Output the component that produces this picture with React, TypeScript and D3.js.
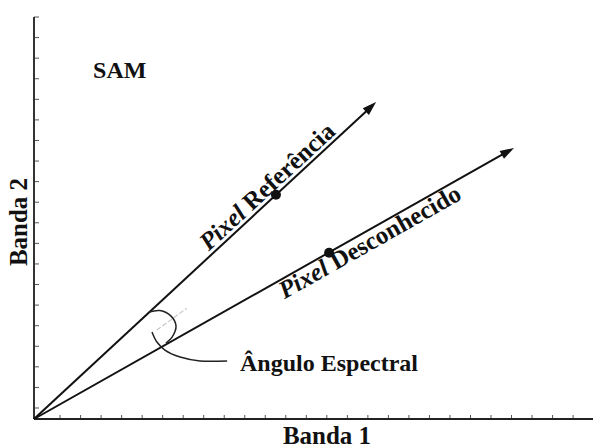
import React from "react";
import * as d3 from "d3";

const W = 593;
const H = 448;

// axis domains in tick units
const xDomain = [0, 27.24];
const yDomain = [0, 19.535];
const xTicks = d3.range(1.27, 27.3, 1);
const yTicks = d3.range(0.535, 19.6, 1);

// vectors
const vectorItalic = ["Pixel", "Pixel"];
const vectorNames = ["Referência", "Desconhecido"];
const vectorTipX = [16.67, 23.39];
const vectorTipY = [15.4, 13.17];
const pixelX = [11.79, 14.38];
const pixelY = [10.9, 8.08];

// spectral angle curl
const arcX = [5.6, 6.14, 6.68, 6.92, 6.73, 6.43];
const arcY = [5.2, 5.27, 5.0, 4.52, 3.98, 3.69];
// leader line
const leaderX = [5.75, 5.99, 6.38, 7.12, 8.09, 9.41];
const leaderY = [4.23, 3.74, 3.35, 3.01, 2.82, 2.82];
// bisector
const bisX = [5.98, 7.44];
const bisY = [4.32, 5.38];

const titleText = "SAM";
const angleText = "Ângulo Espectral";
const xLabel = "Banda 1";
const yLabel = "Banda 2";

export default function App() {
  const x = d3.scaleLinear().domain(xDomain).range([34, 593]);
  const y = d3.scaleLinear().domain(yDomain).range([419, 17]);
  const ox = x(0);
  const oy = y(0);

  const curve = d3
    .line<[number, number]>()
    .x((d) => x(d[0]))
    .y((d) => y(d[1]))
    .curve(d3.curveCatmullRom.alpha(0.5));

  const arcPts = arcX.map((v, i) => [v, arcY[i]] as [number, number]);
  const leaderPts = leaderX.map((v, i) => [v, leaderY[i]] as [number, number]);

  const font = "'Liberation Serif', 'Times New Roman', serif";

  // label placement along each vector (px along, perpendicular offset)
  const labelAlong = [242, 277];
  const labelOffset = [-4, 19];

  return (
    <svg
      width={W}
      height={H}
      style={{ position: "absolute", left: 0, top: 0, background: "#fff" }}
      fontFamily={font}
    >
      <rect x={0} y={0} width={W} height={H} fill="#fff" />
      {/* ticks */}
      {yTicks.map((t, i) => (
        <line key={"yt" + i} x1={ox} x2={ox + 5} y1={y(t)} y2={y(t)} stroke="#555" strokeWidth={1} />
      ))}
      {xTicks.map((t, i) => (
        <line key={"xt" + i} x1={x(t)} x2={x(t)} y1={oy} y2={oy - 4} stroke="#555" strokeWidth={1} />
      ))}
      {/* axes */}
      <line x1={ox} x2={ox} y1={y(yDomain[1])} y2={oy} stroke="#333" strokeWidth={2} />
      <line x1={ox} x2={x(xDomain[1])} y1={oy} y2={oy} stroke="#222" strokeWidth={2} />

      {/* bisector */}
      <line
        x1={x(bisX[0])}
        y1={y(bisY[0])}
        x2={x(bisX[1])}
        y2={y(bisY[1])}
        stroke="#c8c8c8"
        strokeWidth={1.2}
        strokeDasharray="5,2"
      />

      {/* vectors */}
      {vectorNames.map((name, i) => {
        const tx = x(vectorTipX[i]);
        const ty = y(vectorTipY[i]);
        const L = Math.hypot(tx - ox, ty - oy);
        const ang = (Math.atan2(ty - oy, tx - ox) * 180) / Math.PI;
        return (
          <g key={name}>
            <g transform={`translate(${ox},${oy}) rotate(${ang})`}>
              <line x1={0} y1={0} x2={L - 6} y2={0} stroke="#111" strokeWidth={2} />
              <path d={`M${L},0 L${L - 14},-4.5 L${L - 14},4.5 Z`} fill="#111" />
              <text
                x={labelAlong[i]}
                y={labelOffset[i]}
                fontSize={25}
                fontWeight="bold"
                fill="#111"
              >
                <tspan fontStyle="italic">{vectorItalic[i]}</tspan>
                <tspan> {name}</tspan>
              </text>
            </g>
            <circle cx={x(pixelX[i])} cy={y(pixelY[i])} r={5} fill="#111" />
          </g>
        );
      })}

      {/* angle curl and leader */}
      <path d={curve(arcPts) || ""} fill="none" stroke="#222" strokeWidth={1.5} />
      <path d={curve(leaderPts) || ""} fill="none" stroke="#222" strokeWidth={1.5} />

      <text x={x(10.04)} y={y(2.33)} fontSize={24} fontWeight="bold" fill="#111">
        {angleText}
      </text>
      <text x={x(2.88)} y={y(16.57)} fontSize={24} fontWeight="bold" fill="#111">
        {titleText}
      </text>
      <text x={327} y={444} fontSize={25} fontWeight="bold" fill="#111" textAnchor="middle">
        {xLabel}
      </text>
      <text
        transform={`translate(27,222) rotate(-90)`}
        fontSize={25}
        fontWeight="bold"
        fill="#111"
        textAnchor="middle"
      >
        {yLabel}
      </text>
    </svg>
  );
}
